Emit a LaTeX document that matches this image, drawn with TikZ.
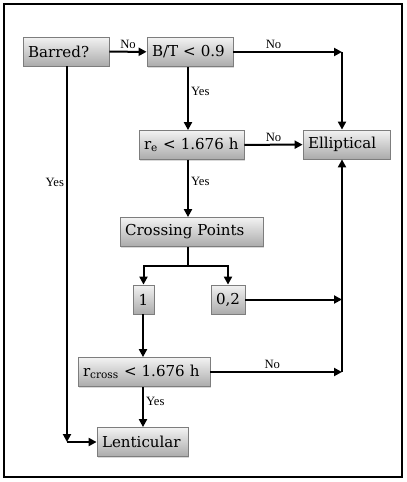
\documentclass[tikz,border=0pt]{standalone}
\usepackage{fontspec}
\setmainfont{Liberation Serif}
\newfontfamily\boitefont{DejaVu Serif}
\usetikzlibrary{arrows.meta,shadows}
\definecolor{cbord}{RGB}{125,125,125}

\begin{document}
\begin{tikzpicture}[x=0.75pt, y=-0.75pt, >={Triangle[length=6pt,width=6pt]}, line width=1.5pt,
  boite/.style={draw=cbord, line width=0.6pt, top color=black!5, bottom color=black!33,
    drop shadow={shadow xshift=0.8pt, shadow yshift=-0.8pt, opacity=0.3},
    inner xsep=3.75pt, inner ysep=0pt, minimum height=21.75pt, align=left,
    font=\boitefont\fontsize{11.3}{13}\selectfont},
  etiq/.style={font=\fontsize{9.5}{11}\selectfont, inner sep=1.5pt}]
\useasboundingbox (0,0) rectangle (407,482);
% cadre
\draw[line width=2.2pt] (4,4) rectangle (402,477);
% boites
\node[boite, text width=57pt] (barred) at (66,51.5) {Barred?};
\node[boite, text width=57pt] (bt) at (190,52) {B/T < 0.9};
\node[boite, text width=57.75pt] (ell) at (346.5,144.5) {Elliptical};
\node[boite, text width=71.25pt] (re) at (191.5,145) {r\textsubscript{e} < 1.676 h};
\node[boite, text width=99.75pt] (cross) at (191.5,232) {Crossing Points};
\node[boite, text width=8.25pt, align=center] (one) at (143.5,299.5) {1};
\node[boite, text width=18pt, align=center] (zt) at (228,299.5) {0,2};
\node[boite, text width=91.5pt] (rc) at (144,372) {r\textsubscript{cross} < 1.676 h};
\node[boite, text width=60.75pt] (lent) at (142.5,442) {Lenticular};
% colonnes
\coordinate (cd) at (342,0);
\coordinate (cc) at (188,0);
\coordinate (cg) at (143,0);
\coordinate (cb) at (67,0);
\coordinate (sp) at (0,266);
% fleches du haut
\draw[->] (barred) -- node[etiq,above]{No} (bt);
\draw[->] (bt) -- node[etiq,above,pos=0.37]{No} (bt -| cd);
\draw[->] (bt -| cd) -- (cd |- ell.north);
\draw[->] (bt.south -| cc) -- node[etiq,right,pos=0.38]{Yes} (re.north -| cc);
\draw[->] (re) -- node[etiq,above]{No} (ell);
\draw[->] (re.south -| cc) -- node[etiq,right,pos=0.38]{Yes} (cross.north -| cc);
% embranchement
\draw (cross.south -| cc) -- (sp -| cc);
\draw[->] (sp -| cc) -| (one.north);
\draw[->] (sp -| cc) -| (zt.north);
\draw[->] (zt) -- (zt -| cd);
\draw[->] (one.south -| cg) -- (rc.north -| cg);
% fleches du bas
\draw[->] (rc) -- node[etiq,above,pos=0.47]{No} (rc -| cd);
\draw[->] (rc -| cd) -- (cd |- ell.south);
\draw[->] (rc.south -| cg) -- node[etiq,right,pos=0.35]{Yes} (lent.north -| cg);
\draw[->] (barred.south -| cb) -- node[etiq,left,pos=0.31]{Yes} (lent -| cb);
\draw[->] (lent -| cb) -- (lent);
\end{tikzpicture}
\end{document}
